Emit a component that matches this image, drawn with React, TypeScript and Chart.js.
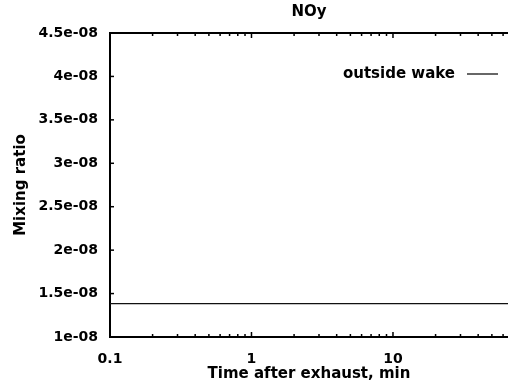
import React, { useEffect, useRef } from "react";
import { Chart, registerables } from "chart.js";

Chart.register(...registerables);

const chartTitle = "NOy";
const xAxisTitle = "Time after exhaust, min";
const yAxisTitle = "Mixing ratio";
const seriesLabel = "outside wake";

const xRange = [0.1, 65];
const timeMin = [0.1, 65];
const outsideWake = [1.385e-8, 1.385e-8];

const xMajorTicks = [0.1, 1, 10];
const xTickLabels = ["0.1", "1", "10"];
const yTickValues = [1e-8, 1.5e-8, 2e-8, 2.5e-8, 3e-8, 3.5e-8, 4e-8, 4.5e-8];
const yTickLabels = ["1e-08", "1.5e-08", "2e-08", "2.5e-08", "3e-08", "3.5e-08", "4e-08", "4.5e-08"];

const FONT = "'DejaVu Sans', sans-serif";

function xAllTicks(): number[] {
  const out: number[] = [];
  for (const d of xMajorTicks) {
    for (let m = 1; m <= 9; m++) {
      const v = +(d * m).toPrecision(6);
      if (v <= xRange[1] + 1e-9) out.push(v);
    }
  }
  return out;
}

const framePlugin = {
  id: "frameTicks",
  afterDraw(chart: any) {
    const { ctx, chartArea } = chart;
    const { left, right, top, bottom } = chartArea;
    const xs = chart.scales.x;
    const ys = chart.scales.y;
    ctx.save();
    ctx.strokeStyle = "#000";
    // top border
    ctx.lineWidth = 2;
    ctx.beginPath();
    ctx.moveTo(left, top);
    ctx.lineTo(right, top);
    ctx.stroke();
    // x ticks (inward, top & bottom)
    ctx.lineWidth = 1.5;
    for (const v of xAllTicks()) {
      const px = xs.getPixelForValue(v);
      const major = xMajorTicks.some((m) => Math.abs(m - v) < 1e-9);
      const len = major ? 5 : 3;
      ctx.beginPath();
      ctx.moveTo(px, bottom);
      ctx.lineTo(px, bottom - len);
      ctx.moveTo(px, top);
      ctx.lineTo(px, top + len);
      ctx.stroke();
    }
    // y ticks (inward, left)
    for (const v of yTickValues) {
      const py = ys.getPixelForValue(v);
      ctx.beginPath();
      ctx.moveTo(left, py);
      ctx.lineTo(left + 4, py);
      ctx.stroke();
    }
    // legend
    const ly = top + 41;
    ctx.font = `bold 15px ${FONT}`;
    ctx.fillStyle = "#000";
    ctx.textAlign = "right";
    ctx.textBaseline = "middle";
    ctx.fillText(seriesLabel, 455, ly);
    ctx.lineWidth = 1.2;
    ctx.beginPath();
    ctx.moveTo(467, ly);
    ctx.lineTo(498, ly);
    ctx.stroke();
    ctx.restore();
  },
};

export default function App() {
  const ref = useRef<HTMLCanvasElement | null>(null);
  useEffect(() => {
    if (!ref.current) return;
    const chart = new Chart(ref.current, {
      type: "line",
      data: {
        datasets: [
          {
            label: seriesLabel,
            data: timeMin.map((t, i) => ({ x: t, y: outsideWake[i] })),
            borderColor: "#111",
            borderWidth: 1.2,
            pointRadius: 0,
            pointBorderWidth: 0,
            pointHitRadius: 0,
            fill: false,
            tension: 0,
          },
        ],
      },
      options: {
        animation: false,
        responsive: false,
        layout: { padding: 0, autoPadding: false },
        plugins: {
          legend: { display: false },
          tooltip: { enabled: false },
          title: {
            display: true,
            text: chartTitle,
            fullSize: false,
            color: "#000",
            font: { family: FONT, size: 15, weight: "bold", lineHeight: 1.2 },
            padding: { top: 3, bottom: 12 },
          },
        },
        scales: {
          x: {
            type: "logarithmic",
            min: xRange[0],
            max: xRange[1],
            grid: { display: false, drawTicks: false, tickLength: 0 },
            border: { display: true, color: "#000", width: 2 },
            afterBuildTicks: (scale: any) => {
              scale.ticks = xAllTicks().map((v) => ({ value: v }));
            },
            afterFit: (scale: any) => {
              scale.height = 51;
              scale.paddingRight = 0;
            },
            ticks: {
              autoSkip: false,
              maxRotation: 0,
              padding: 14,
              color: "#000",
              font: { family: FONT, size: 14, weight: "bold" },
              callback: (value: any) => {
                const i = xMajorTicks.findIndex((m) => Math.abs(m - Number(value)) < 1e-9);
                return i >= 0 ? xTickLabels[i] : "";
              },
            },
            title: {
              display: true,
              text: xAxisTitle,
              color: "#000",
              font: { family: FONT, size: 15, weight: "bold", lineHeight: 1.2 },
              padding: { top: 0, bottom: 5 },
            },
          },
          y: {
            type: "linear",
            min: yTickValues[0],
            max: yTickValues[yTickValues.length - 1],
            grid: { display: false, drawTicks: false, tickLength: 0 },
            border: { display: true, color: "#000", width: 2 },
            afterBuildTicks: (scale: any) => {
              scale.ticks = yTickValues.map((v) => ({ value: v }));
            },
            afterFit: (scale: any) => {
              scale.width = 110;
            },
            ticks: {
              autoSkip: false,
              padding: 12,
              color: "#000",
              font: { family: FONT, size: 14, weight: "bold" },
              callback: (_v: any, i: number) => yTickLabels[i],
            },
            title: {
              display: true,
              text: yAxisTitle,
              color: "#000",
              font: { family: FONT, size: 15, weight: "bold", lineHeight: 1.2 },
              padding: { top: 12, bottom: 0 },
            },
          },
        },
      },
      plugins: [framePlugin],
    });
    return () => chart.destroy();
  }, []);
  return (
    <div style={{ position: "absolute", left: 0, top: 0, width: 508, height: 388, background: "#fff" }}>
      <canvas ref={ref} width={508} height={388} />
    </div>
  );
}
